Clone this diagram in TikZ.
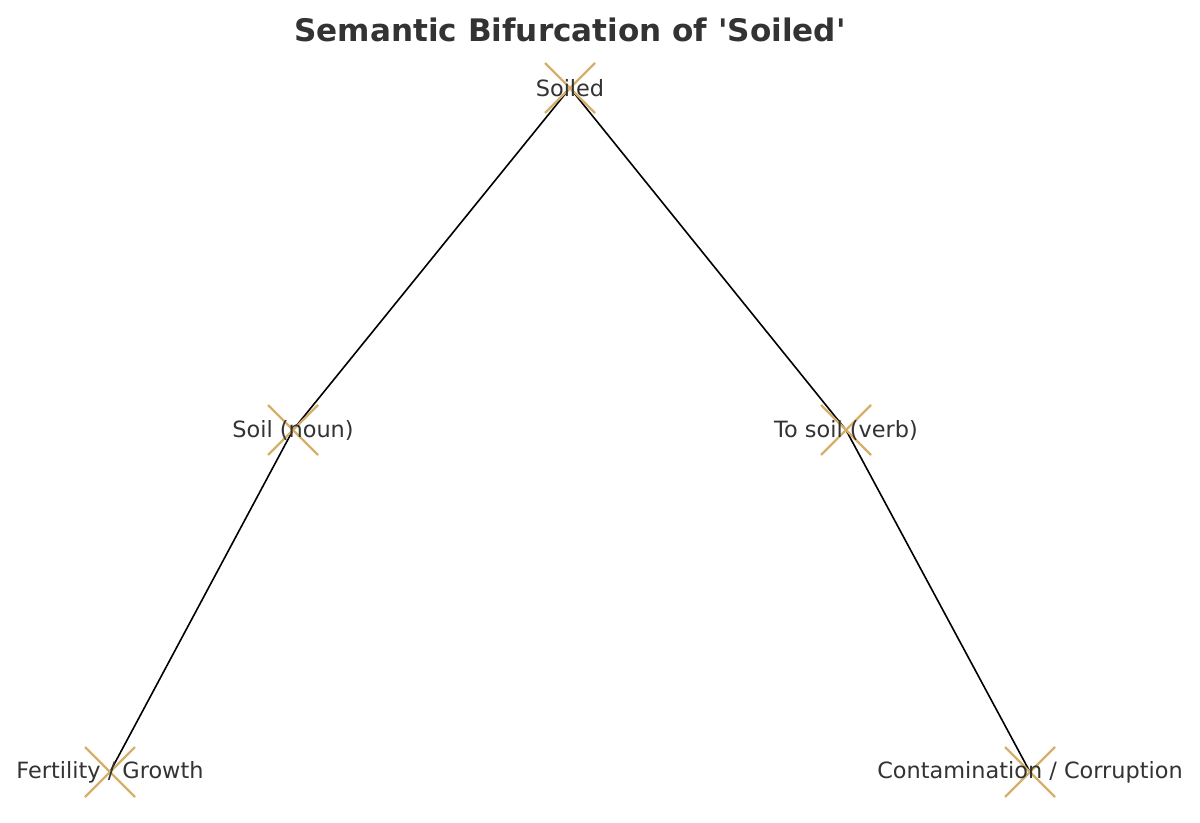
\documentclass[tikz,border=0pt]{standalone}
\usepackage{fontspec}
\setmainfont{DejaVu Sans}[Ligatures=TeXOff]
\definecolor{tan}{HTML}{D4B06A}
\definecolor{txt}{HTML}{333333}
\begin{document}
\begin{tikzpicture}[x=0.75pt,y=-0.75pt,
  lbl/.style={text=txt,font=\fontsize{16.8pt}{18pt}\selectfont,inner sep=0pt},
  xmark/.style={draw=tan,line width=1.8pt},
  edge/.style={draw=black,line width=1.2pt}]
\useasboundingbox[fill=white] (0,0) rectangle (1200,823);
\node[text=txt,font=\fontsize{23.3pt}{26pt}\selectfont\bfseries] (title) at (570,30) {Semantic Bifurcation of 'Soiled'};
\coordinate (s) at (570,88);
\coordinate (n) at (293,430);
\coordinate (v) at (846,430);
\coordinate (f) at (110,772);
\coordinate (c) at (1030,772);
\draw[edge] (s) -- (n) -- (f);
\draw[edge] (s) -- (v) -- (c);
\foreach \p in {s,n,v,f,c}{
  \draw[xmark] ([shift={(-25,-25)}]\p) -- ([shift={(25,25)}]\p);
  \draw[xmark] ([shift={(-25,25)}]\p) -- ([shift={(25,-25)}]\p);
}
\node[lbl] (ls) at (s) {Soiled};
\node[lbl] (ln) at (n) {Soil (noun)};
\node[lbl] (lv) at (v) {To soil (verb)};
\node[lbl] (lf) at (f) {Fertility / Growth};
\node[lbl] (lc) at (c) {Contamination / Corruption};
\end{tikzpicture}
\end{document}
